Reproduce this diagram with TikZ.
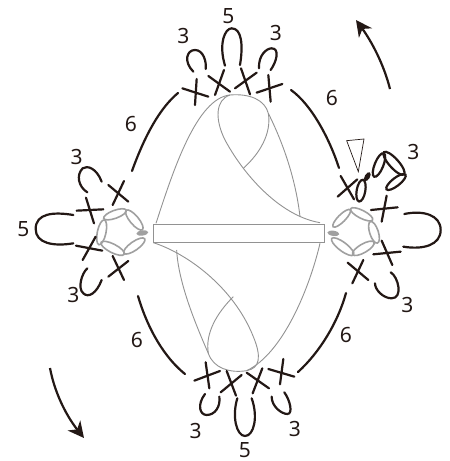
\documentclass[tikz,border=0pt]{standalone}
\usepackage{fontspec}
\setmainfont{Noto Sans}
\usetikzlibrary{arrows.meta}
\definecolor{ink}{HTML}{231815}
\definecolor{ringgray}{HTML}{A0A0A0}
\definecolor{linegray}{HTML}{929292}
\tikzset{
  stitch/.style={draw=ink,line width=2.2pt,line cap=round},
  loopline/.style={draw=ink,line width=2.2pt,line cap=round},
  ring/.style={draw=ringgray,line width=1.6pt},
  body/.style={draw=linegray,line width=0.9pt},
  num/.style={font=\fontsize{21}{21}\selectfont,text=ink,inner sep=0pt},
  zone/.style={x=0.3333pt,y=-0.3333pt},
  turn/.style={draw=ink,line width=2.2pt,-{Stealth[length=16pt,width=16pt,inset=5pt]}}
}
\newcommand{\xst}[8]{\draw[stitch] (#1,#2)--(#3,#4); \draw[stitch] (#5,#6)--(#7,#8);}
\newcommand{\petal}[6][ring]{\draw[#1,rotate around={-#6:(#2,#3)}] (#2,#3) ellipse [x radius=#4*0.3333pt,y radius=#5*0.3333pt];}
\begin{document}
\begin{tikzpicture}[x=1pt,y=-1pt]
\useasboundingbox (0,0) rectangle (450,461);
\clip (0,0) rectangle (450,461);
\fill[white] (0,0) rectangle (450,461);
% long arcs
\draw[loopline] (132,171) .. controls (145,135) and (160,108) .. (178,93);
\draw[loopline] (291,90) .. controls (312,105) and (330,140) .. (339,168);
\draw[loopline] (138,296) .. controls (148,330) and (165,358) .. (185,374);
\draw[loopline] (298,372) .. controls (320,352) and (338,322) .. (346,293);
% turning arrows
\draw[turn] (390,89) .. controls (384,65) and (372,42) .. (356,20);
\draw[turn] (50,368) .. controls (55,395) and (68,418) .. (84,438);
% top body
\begin{scope}[shift={(150,0)},zone]
\draw[body] (18,670) .. controls (70,510) and (140,295) .. (240,285) .. controls (300,280) and (345,300) .. (355,340);
\draw[body] (355,340) .. controls (410,450) and (440,560) .. (450,650);
\draw[body] (240,285) .. controls (195,300) and (195,360) .. (225,420) .. controls (290,540) and (400,650) .. (510,668);
\draw[body] (280,505) .. controls (330,460) and (365,400) .. (355,340);
\xst{97}{265}{175}{290}{140}{237}{135}{315}
\xst{175}{228}{240}{275}{222}{210}{195}{285}
\xst{255}{265}{320}{218}{273}{205}{300}{283}
\xst{320}{278}{397}{252}{355}{225}{362}{305}
\draw[loopline] (130,215) .. controls (100,185) and (110,150) .. (135,150) .. controls (160,150) and (170,185) .. (167,207);
\draw[loopline] (225,197) .. controls (205,130) and (225,85) .. (245,85) .. controls (275,85) and (280,135) .. (270,195);
\draw[loopline] (327,205) .. controls (325,165) and (350,145) .. (365,145) .. controls (390,145) and (380,185) .. (362,210);
\node[num] (t1) at (100,107) {3};
\node[num] (t2) at (235,47) {5};
\node[num] (t3) at (378,100) {3};
\end{scope}
% bottom body
\begin{scope}[shift={(150,240)},zone]
\draw[body] (10,8) .. controls (110,40) and (250,140) .. (310,290) .. controls (335,350) and (330,385) .. (290,392);
\draw[body] (80,30) .. controls (85,130) and (140,260) .. (175,340);
\draw[body] (250,170) .. controls (200,220) and (165,280) .. (175,340) .. controls (190,385) and (240,400) .. (290,392);
\draw[body] (290,392) .. controls (400,340) and (480,140) .. (510,10);
\xst{133}{422}{210}{393}{167}{367}{178}{445}
\xst{230}{393}{258}{467}{275}{405}{212}{457}
\xst{290}{398}{357}{445}{337}{385}{308}{460}
\xst{355}{387}{433}{410}{400}{357}{390}{433}
\draw[loopline] (165,462) .. controls (140,495) and (150,525) .. (170,525) .. controls (195,525) and (212,500) .. (208,470);
\draw[loopline] (262,475) .. controls (245,530) and (260,588) .. (285,588) .. controls (312,588) and (325,530) .. (305,475);
\draw[loopline] (365,470) .. controls (365,500) and (395,522) .. (412,522) .. controls (430,522) and (420,480) .. (403,457);
\node[num] (b1) at (137,572) {3};
\node[num] (b2) at (285,630) {5};
\node[num] (b3) at (435,567) {3};
\end{scope}
% middle bar
\draw[body,fill=white] (153,224) rectangle (324,242);
% right side
\begin{scope}[shift={(300,120)},zone]
\petal{125}{295}{36}{11}{-45}
\petal{185}{283}{37}{12}{27}
\petal{222}{337}{34}{13}{72}
\petal{190}{385}{37}{13}{-30}
\petal{128}{380}{41}{13}{37}
\fill[ringgray,rotate around={-8:(100,340)}] (100,340) ellipse [x radius=6pt,y radius=2.6pt];
\xst{122}{168}{162}{238}{113}{230}{172}{178}
\xst{213}{270}{293}{262}{260}{227}{245}{305}
\xst{245}{362}{277}{435}{220}{403}{302}{395}
\xst{143}{428}{205}{480}{190}{420}{157}{490}
\draw[loopline] (313,282) .. controls (370,270) and (422,285) .. (422,330) .. controls (422,375) and (370,390) .. (310,380);
\draw[loopline] (272,457) .. controls (295,470) and (310,535) .. (275,535) .. controls (250,535) and (225,510) .. (225,490);
\petal[stitch]{183}{212}{33}{13}{-80}
\fill[ink,rotate around={60:(202,170)}] (202,170) ellipse [x radius=5pt,y radius=2.6pt];
\petal[stitch]{237}{135}{38}{13}{-68}
\petal[stitch]{282}{130}{45}{14}{48}
\petal[stitch]{288}{186}{36}{12}{-38}
\draw[draw=ink,line width=0.7pt,fill=white] (140,62)--(192,57)--(175,155)--cycle;
\node[num] (r1) at (340,95) {3};
\node[num] (r2) at (322,555) {3};
\node[num] (r3) at (465,357) {5};
\end{scope}
% left side
\begin{scope}[shift={(0,130)},zone]
\petal{345}{253}{36}{12}{-20}
\petal{403}{270}{38}{13}{50}
\petal{403}{348}{38}{13}{-35}
\petal{338}{355}{39}{13}{27}
\petal{305}{307}{38}{13}{-78}
\fill[ringgray,rotate around={8:(427,309)}] (427,309) ellipse [x radius=6pt,y radius=2.6pt];
\xst{325}{165}{385}{215}{372}{153}{338}{225}
\xst{230}{242}{310}{238}{258}{203}{282}{280}
\xst{228}{347}{307}{362}{287}{320}{248}{390}
\xst{325}{440}{385}{393}{338}{378}{372}{450}
\draw[loopline] (305,155) .. controls (290,115) and (262,105) .. (248,115) .. controls (228,135) and (235,170) .. (262,187);
\draw[loopline] (220,255) .. controls (160,245) and (107,250) .. (107,297) .. controls (107,340) and (160,350) .. (220,340);
\draw[loopline] (305,450) .. controls (290,490) and (265,505) .. (250,490) .. controls (232,475) and (245,430) .. (262,415);
\node[num] (l1) at (230,80) {3};
\node[num] (l2) at (70,298) {5};
\node[num] (l3) at (220,495) {3};
\end{scope}
% six labels
\node[num] (s1) at (131,124) {6};
\node[num] (s2) at (332,98) {6};
\node[num] (s3) at (137,340) {6};
\node[num] (s4) at (346,335) {6};
\end{tikzpicture}
\end{document}
